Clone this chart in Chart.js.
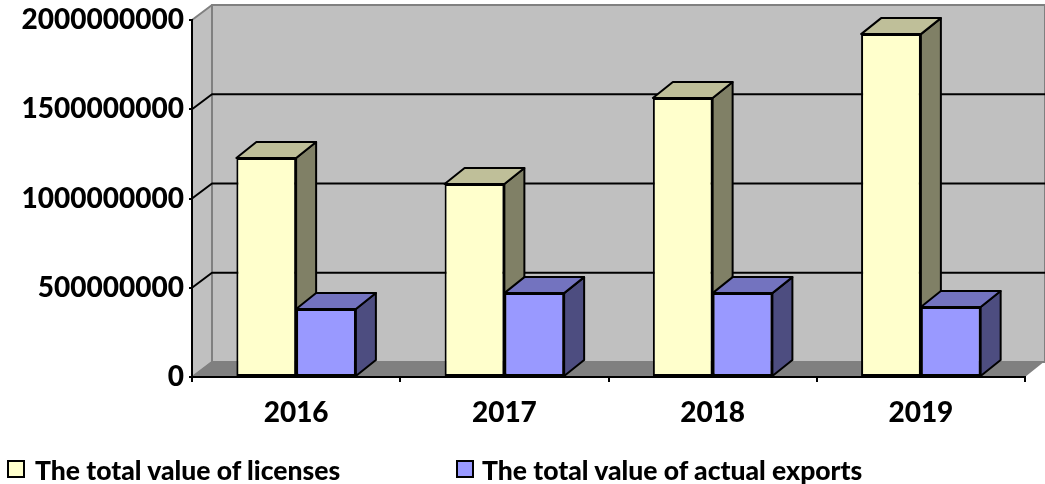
<!DOCTYPE html>
<html>
<head>
<meta charset="utf-8">
<title>Licenses and exports</title>
<script src="https://cdn.jsdelivr.net/npm/chart.js@4"></script>
<style>
  html, body { margin: 0; padding: 0; background: #fff; }
  #wrap { position: relative; width: 1045px; height: 484px; overflow: hidden; }
  #legend span { position: absolute; white-space: nowrap; }
  #legend .box { width: 14px; height: 14px; border: 2px solid #000; top: 460px; }
  #legend .txt { top: 454px; font: 900 26.5px Lato, sans-serif; color: #000; }
</style>
</head>
<body>
<div id="wrap">
  <canvas id="chart" width="1045" height="484"></canvas>
  <div id="legend"></div>
</div>
<script>
// ================== DATA ==================
const years = ["2016", "2017", "2018", "2019"];
const licenses = [1227000000, 1081000000, 1563000000, 1921000000];
const exportsActual = [381000000, 470000000, 470000000, 392000000];

// ================== STYLE ==================
const WALL = "#c0c0c0";
const EDGE = "#808080";
const DEPTH_X = 20;
const DEPTH_Y = 15;
const BAR_DEPTH_Y = 16;
const FONT = "Lato, sans-serif";

function poly(ctx, pts, fill, stroke, width) {
  ctx.beginPath();
  pts.forEach((p, i) => i ? ctx.lineTo(p[0], p[1]) : ctx.moveTo(p[0], p[1]));
  ctx.closePath();
  if (fill) { ctx.fillStyle = fill; ctx.fill(); }
  if (stroke) { ctx.strokeStyle = stroke; ctx.lineWidth = width; ctx.lineJoin = "round"; ctx.stroke(); }
}

// back wall, side wall, floor and the grid that runs over them
const walls = {
  id: "walls",
  beforeDraw(chart) {
    const ctx = chart.ctx;
    const a = chart.chartArea;
    const yScale = chart.scales.y;
    const dx = DEPTH_X, dy = DEPTH_Y;
    ctx.save();
    poly(ctx, [[a.left + dx, a.top - dy], [a.right + dx, a.top - dy], [a.right + dx, a.bottom - dy], [a.left + dx, a.bottom - dy]], WALL, EDGE, 2);
    poly(ctx, [[a.left, a.top], [a.left + dx, a.top - dy], [a.left + dx, a.bottom - dy], [a.left, a.bottom]], WALL, EDGE, 2);
    poly(ctx, [[a.left, a.bottom], [a.left + dx, a.bottom - dy - 1], [a.right + dx, a.bottom - dy - 1], [a.right, a.bottom]], EDGE);
    ctx.strokeStyle = "#000";
    ctx.lineWidth = 2;
    yScale.ticks.forEach(t => {
      if (t.value === 0 || t.value === yScale.max) return;
      const y = yScale.getPixelForValue(t.value);
      ctx.beginPath();
      ctx.moveTo(a.left, y);
      ctx.lineTo(a.left + dx, y - dy);
      ctx.lineTo(a.right + dx, y - dy);
      ctx.stroke();
    });
    ctx.restore();
  }
};

// top and side faces of every bar, behind the flat fronts chart.js draws
const barDepth = {
  id: "barDepth",
  beforeDatasetsDraw(chart) {
    const ctx = chart.ctx;
    const dx = DEPTH_X, dy = BAR_DEPTH_Y;
    ctx.save();
    chart.data.datasets.forEach((ds, i) => {
      chart.getDatasetMeta(i).data.forEach(bar => {
        const p = bar.getProps(["x", "y", "base", "width"], true);
        const l = p.x - p.width / 2, r = p.x + p.width / 2;
        poly(ctx, [[r, p.y], [r + dx, p.y - dy], [r + dx, p.base - dy], [r, p.base]], ds.sideColor, "#000", 2);
        poly(ctx, [[l, p.y], [l + dx, p.y - dy], [r + dx, p.y - dy], [r, p.y]], ds.topColor, "#000", 2);
      });
    });
    ctx.restore();
  }
};

const chart = new Chart(document.getElementById("chart"), {
  type: "bar",
  data: {
    labels: years,
    datasets: [
      { label: "The total value of licenses", data: licenses, backgroundColor: "#ffffcc", topColor: "#bfbf99", sideColor: "#808066", borderColor: "#000", borderWidth: 2, borderSkipped: false },
      { label: "The total value of actual exports", data: exportsActual, backgroundColor: "#9999ff", topColor: "#7373bf", sideColor: "#4d4d80", borderColor: "#000", borderWidth: 2, borderSkipped: false }
    ]
  },
  options: {
    responsive: false,
    animation: false,
    layout: { padding: { top: 20, right: 20, left: 0, bottom: 0 } },
    datasets: { bar: { categoryPercentage: 0.574, barPercentage: 1 } },
    plugins: { legend: { display: false }, tooltip: { enabled: false } },
    scales: {
      x: {
        grid: { drawOnChartArea: false, color: "#000", lineWidth: 2, tickLength: 5 },
        border: { color: "#000", width: 2 },
        ticks: { color: "#000", padding: 14, font: { family: FONT, size: 28, weight: "900" } },
        afterFit(s) { s.height = 107; s.paddingLeft = 0; s.paddingRight = 0; }
      },
      y: {
        min: 0,
        max: 2000000000,
        grid: { drawOnChartArea: false, color: "#000", lineWidth: 2, tickLength: 3 },
        border: { color: "#000", width: 2 },
        ticks: { stepSize: 500000000, color: "#000", padding: 5, font: { family: FONT, size: 28, weight: "900" }, callback: v => String(v) },
        afterFit(s) { s.width = 192; s.paddingTop = 0; s.paddingBottom = 0; }
      }
    }
  },
  plugins: [walls, barDepth]
});

// ================== LEGEND ==================
const legendX = [[7, 35], [456, 482]];
const legendEl = document.getElementById("legend");
chart.data.datasets.forEach((ds, i) => {
  const box = document.createElement("span");
  box.className = "box";
  box.style.left = legendX[i][0] + "px";
  box.style.background = ds.backgroundColor;
  const txt = document.createElement("span");
  txt.className = "txt";
  txt.style.left = legendX[i][1] + "px";
  txt.textContent = ds.label;
  legendEl.appendChild(box);
  legendEl.appendChild(txt);
});
</script>
</body>
</html>
